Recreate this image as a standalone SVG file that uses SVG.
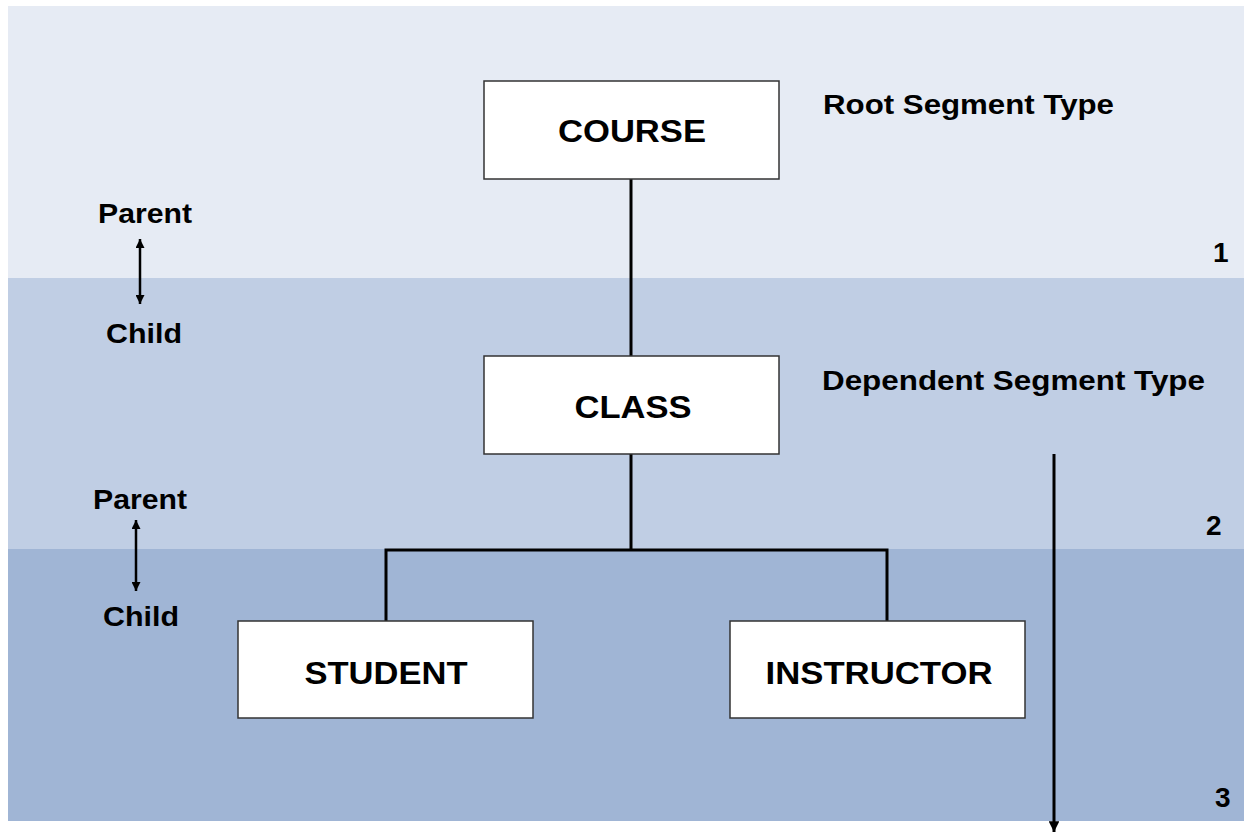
<svg xmlns="http://www.w3.org/2000/svg" width="1244" height="832" viewBox="0 0 1244 832">
<style>
.t{font-family:"Liberation Sans",Arial,sans-serif;font-weight:bold;fill:#000}
.node rect{fill:#fff;stroke:#333;stroke-width:1.5}
.node text{font-size:32px;text-anchor:middle}
.lbl{font-size:27px}
.side{font-size:28px;text-anchor:middle}
.num{font-size:28px}
.conn{stroke:#000;stroke-width:3;fill:none}
</style>
<defs>
<marker id="ah" viewBox="0 0 10 10" refX="10" refY="5" markerWidth="4.5" markerHeight="3.6" orient="auto" markerUnits="strokeWidth">
<path d="M0,0 L10,5 L0,10 z" fill="#000"/>
</marker>
<marker id="ahs" viewBox="0 0 10 10" refX="0" refY="5" markerWidth="4.5" markerHeight="3.6" orient="auto" markerUnits="strokeWidth">
<path d="M10,0 L0,5 L10,10 z" fill="#000"/>
</marker>
</defs>
<rect x="0" y="0" width="1244" height="832" fill="#fff"/>
<g id="bands">
<rect x="8" y="6" width="1236" height="272" fill="#E6EBF4"/>
<rect x="8" y="278" width="1236" height="271" fill="#C0CEE4"/>
<rect x="8" y="549" width="1236" height="272" fill="#A0B5D5"/>
</g>
<g id="connectors" class="conn">
<line x1="631" y1="179" x2="631" y2="356"/>
<line x1="631" y1="454" x2="631" y2="550"/>
<polyline points="386,621 386,550 887,550 887,621"/>
<line x1="1054" y1="454" x2="1054" y2="832" marker-end="url(#ah)"/>
<line x1="140" y1="239" x2="140" y2="304" stroke-width="2.5" marker-start="url(#ahs)" marker-end="url(#ah)"/>
<line x1="136" y1="520" x2="136" y2="591" stroke-width="2.5" marker-start="url(#ahs)" marker-end="url(#ah)"/>
</g>
<g id="course" class="node"><rect x="484" y="81" width="295" height="98"/><text class="t" x="632" y="142" textLength="148" lengthAdjust="spacingAndGlyphs">COURSE</text></g>
<g id="class" class="node"><rect x="484" y="356" width="295" height="98"/><text class="t" x="633" y="418" textLength="117" lengthAdjust="spacingAndGlyphs">CLASS</text></g>
<g id="student" class="node"><rect x="238" y="621" width="295" height="97"/><text class="t" x="386" y="684" textLength="163" lengthAdjust="spacingAndGlyphs">STUDENT</text></g>
<g id="instructor" class="node"><rect x="730" y="621" width="295" height="97"/><text class="t" x="879" y="684" textLength="227" lengthAdjust="spacingAndGlyphs">INSTRUCTOR</text></g>
<g id="labels">
<text class="t lbl" x="823" y="114" textLength="291" lengthAdjust="spacingAndGlyphs">Root Segment Type</text>
<text class="t lbl" x="822" y="390" textLength="383" lengthAdjust="spacingAndGlyphs">Dependent Segment Type</text>
<text class="t side" x="145" y="223" textLength="94" lengthAdjust="spacingAndGlyphs">Parent</text>
<text class="t side" x="144" y="343" textLength="76" lengthAdjust="spacingAndGlyphs">Child</text>
<text class="t side" x="140" y="509" textLength="94" lengthAdjust="spacingAndGlyphs">Parent</text>
<text class="t side" x="141" y="626" textLength="76" lengthAdjust="spacingAndGlyphs">Child</text>
<text class="t num" x="1213" y="262">1</text>
<text class="t num" x="1206" y="535">2</text>
<text class="t num" x="1215" y="807">3</text>
</g>
</svg>
